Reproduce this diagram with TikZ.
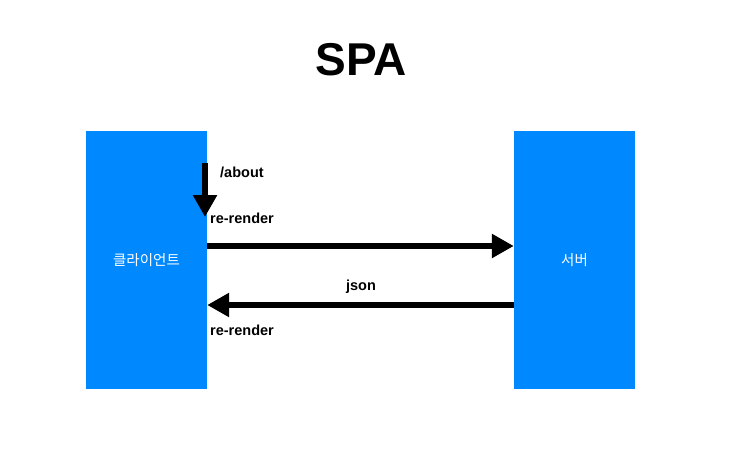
\documentclass[tikz,border=0pt]{standalone}
\usepackage{fontspec}
\setmainfont{Liberation Sans}
\newfontfamily\krfont{Noto Sans CJK KR}
\usetikzlibrary{arrows.meta,positioning}
\definecolor{boxblue}{HTML}{0088FF}

\begin{document}
\begin{tikzpicture}[
  x=1pt, y=-1pt,
  box/.style={fill=boxblue, draw=none, minimum width=121pt, minimum height=258pt, inner sep=0pt,
    text=white, font=\krfont\fontsize{14.5}{17}\selectfont},
  lab/.style={font=\bfseries\fontsize{14.5}{17}\selectfont, inner sep=0pt, anchor=west},
  msg/.style={line width=5.5pt, -{Triangle[length=22pt,width=23pt]}}]
  \useasboundingbox (0,0) rectangle (730,455);
  \node[font=\bfseries\fontsize{46}{50}\selectfont] (title) at (361,60) {SPA};
  \node[box] (client) at (146.5,260) {클라이언트};
  \node[box] (server) at (574.5,260) {서버};
  % route change
  \coordinate (navtop) at (205,163);
  \coordinate (navend) at (205,217);
  \draw[msg] (navtop) -- (navend);
  \node[lab] (about) at (220,172) {/about};
  \node[lab] (render1) at (210,218) {re-render};
  % request and response
  \draw[msg] ([yshift=14pt]client.east) -- ([yshift=14pt]server.west);
  \draw[msg] ([yshift=-45pt]server.west) -- ([yshift=-45pt]client.east);
  \node[lab, anchor=center] (json) at (361,287) {json};
  \node[lab] (render2) at (210,330) {re-render};
\end{tikzpicture}
\end{document}
